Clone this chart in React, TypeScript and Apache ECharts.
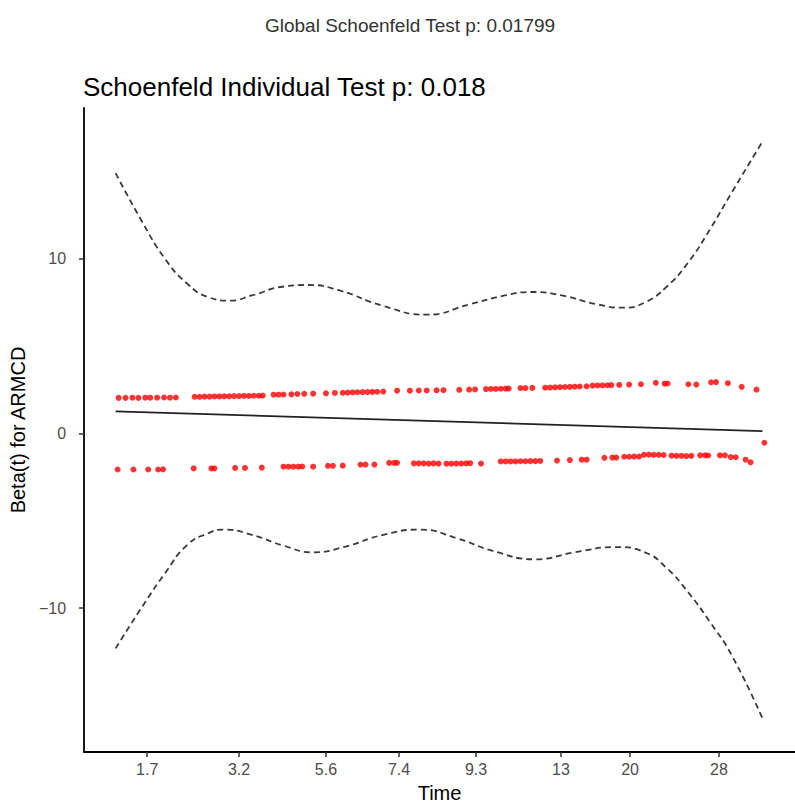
import React, { useEffect, useRef } from "react";
import * as echarts from "echarts";

// x values are on the transformed (rank) time scale used by the plot
const tickPositions = [32, 125, 213, 287, 365, 451, 521, 611];
const tickLabels = ["1.7", "3.2", "5.6", "7.4", "9.3", "13", "20", "28"];
const yTicks = [-10, 0, 10];

const upperCiX = [0, 27, 50, 72, 94, 116, 138, 169, 195, 226, 271, 315, 359, 394, 421, 452, 487, 514, 536, 558, 580, 602, 624, 655];
const upperCiY = [14.9, 12.1, 10.0, 8.6, 7.8, 7.6, 7.9, 8.4, 8.5, 8.2, 7.3, 6.8, 7.4, 7.9, 8.1, 7.9, 7.4, 7.2, 7.5, 8.4, 9.8, 11.7, 13.8, 16.7];

const lowerCiX = [0, 27, 50, 72, 94, 109, 138, 169, 200, 231, 271, 308, 346, 381, 425, 465, 507, 536, 558, 580, 602, 624, 655];
const lowerCiY = [-12.3, -9.9, -8.0, -6.4, -5.7, -5.5, -5.8, -6.4, -6.8, -6.5, -5.8, -5.5, -6.0, -6.7, -7.2, -6.8, -6.5, -6.8, -7.7, -9.1, -10.8, -12.7, -16.3];

const fitX = [0, 655];
const fitY = [1.27, 0.13];

const resUpperX = [3, 10, 17, 23, 30, 35, 42, 49, 55, 61, 80, 85, 90, 95, 100, 105, 110, 115, 120, 125, 130, 135, 140, 145, 149, 160, 165, 170, 178, 184, 191, 200, 213, 222, 230, 235, 240, 245, 250, 255, 260, 265, 271, 285, 298, 307, 315, 325, 332, 348, 358, 364, 375, 380, 385, 390, 395, 398, 410, 415, 422, 435, 440, 445, 450, 455, 460, 465, 470, 477, 483, 488, 493, 498, 502, 510, 520, 532, 547, 556, 559, 580, 588, 603, 608, 620, 634, 649];
const resUpperY = [2.04, 2.04, 2.05, 2.04, 2.05, 2.05, 2.05, 2.06, 2.05, 2.06, 2.1, 2.1, 2.11, 2.11, 2.12, 2.12, 2.13, 2.13, 2.14, 2.14, 2.15, 2.15, 2.16, 2.16, 2.17, 2.22, 2.22, 2.23, 2.24, 2.26, 2.27, 2.28, 2.3, 2.32, 2.33, 2.34, 2.35, 2.36, 2.37, 2.37, 2.38, 2.39, 2.4, 2.45, 2.45, 2.46, 2.46, 2.47, 2.48, 2.5, 2.51, 2.52, 2.54, 2.55, 2.55, 2.56, 2.57, 2.57, 2.6, 2.6, 2.61, 2.62, 2.63, 2.64, 2.65, 2.66, 2.67, 2.68, 2.69, 2.7, 2.74, 2.75, 2.75, 2.76, 2.77, 2.78, 2.8, 2.82, 2.9, 2.85, 2.86, 2.82, 2.8, 2.93, 2.94, 2.88, 2.67, 2.51];

const resLowerX = [2, 18, 33, 43, 48, 79, 97, 100, 121, 131, 148, 170, 175, 180, 185, 189, 200, 215, 220, 230, 248, 253, 262, 277, 282, 285, 302, 307, 312, 317, 322, 327, 335, 340, 345, 350, 355, 359, 370, 390, 395, 400, 405, 410, 415, 420, 425, 430, 447, 460, 472, 477, 495, 503, 507, 515, 520, 525, 530, 535, 540, 545, 550, 555, 563, 568, 573, 578, 583, 592, 597, 600, 612, 617, 623, 628, 638, 643, 657];
const resLowerY = [-2.06, -2.06, -2.06, -2.06, -2.05, -2.0, -2.0, -2.0, -1.97, -1.97, -1.95, -1.9, -1.9, -1.9, -1.9, -1.89, -1.9, -1.85, -1.85, -1.84, -1.78, -1.78, -1.78, -1.68, -1.68, -1.68, -1.71, -1.71, -1.71, -1.72, -1.71, -1.72, -1.73, -1.73, -1.72, -1.72, -1.71, -1.7, -1.72, -1.6, -1.6, -1.6, -1.6, -1.59, -1.59, -1.58, -1.58, -1.57, -1.55, -1.52, -1.5, -1.5, -1.39, -1.38, -1.38, -1.33, -1.33, -1.32, -1.32, -1.22, -1.21, -1.22, -1.22, -1.23, -1.27, -1.28, -1.28, -1.29, -1.28, -1.25, -1.25, -1.26, -1.25, -1.25, -1.35, -1.36, -1.5, -1.65, -0.53];

const zip = (xs: number[], ys: number[]) => xs.map((x, i) => [x, ys[i]]);

export default function App() {
  const ref = useRef<HTMLDivElement>(null);
  useEffect(() => {
    if (!ref.current) return;
    const chart = echarts.init(ref.current, null, { renderer: "svg" });
    const font = "'Liberation Sans', Arial, sans-serif";
    chart.setOption({
      animation: false,
      backgroundColor: "#ffffff",
      graphic: [
        {
          type: "text",
          x: 410,
          y: 25,
          style: {
            text: "Global Schoenfeld Test p: 0.01799",
            font: `19px ${font}`,
            fill: "#333333",
            textAlign: "center",
            textVerticalAlign: "middle",
          },
        },
        {
          type: "text",
          x: 83,
          y: 87,
          style: {
            text: "Schoenfeld Individual Test p: 0.018",
            font: `26px ${font}`,
            fill: "#000000",
            textAlign: "left",
            textVerticalAlign: "middle",
          },
        },
      ],
      grid: { left: 83, top: 108, width: 720, height: 645, containLabel: false },
      xAxis: {
        type: "value",
        min: -32,
        max: 688,
        name: "Time",
        nameLocation: "middle",
        nameGap: 31,
        nameTextStyle: { fontFamily: font, fontSize: 20, color: "#000" },
        axisLine: { show: true, onZero: false, lineStyle: { color: "#000", width: 1.8 } },
        axisTick: { show: true, length: 5, customValues: tickPositions, lineStyle: { color: "#333", width: 1.5 } },
        axisLabel: {
          customValues: tickPositions,
          formatter: (v: number) => {
            const i = tickPositions.indexOf(v);
            return i >= 0 ? tickLabels[i] : "";
          },
          fontFamily: font,
          fontSize: 16,
          color: "#4d4d4d",
          margin: 9,
        },
        splitLine: { show: false },
      },
      yAxis: {
        type: "value",
        min: -18.23,
        max: 18.63,
        name: "Beta(t) for ARMCD",
        nameLocation: "middle",
        nameGap: 46,
        nameTextStyle: { fontFamily: font, fontSize: 20, color: "#000" },
        axisLine: { show: true, onZero: false, lineStyle: { color: "#000", width: 1.8 } },
        axisTick: { show: true, length: 5, customValues: yTicks, lineStyle: { color: "#333", width: 1.5 } },
        axisLabel: {
          customValues: yTicks,
          formatter: (v: number) => String(v).replace("-", "\u2212"),
          fontFamily: font,
          fontSize: 16,
          color: "#4d4d4d",
          margin: 18,
        },
        splitLine: { show: false },
      },
      series: [
        {
          type: "scatter",
          data: zip(resUpperX, resUpperY),
          symbol: "circle",
          symbolSize: 6,
          itemStyle: { color: "#ff0000" },
          z: 2,
        },
        {
          type: "scatter",
          data: zip(resLowerX, resLowerY),
          symbol: "circle",
          symbolSize: 6,
          itemStyle: { color: "#ff0000" },
          z: 2,
        },
        {
          type: "line",
          data: zip(fitX, fitY),
          showSymbol: false,
          lineStyle: { color: "#222", width: 1.7 },
          z: 3,
        },
        {
          type: "line",
          data: zip(upperCiX, upperCiY),
          smooth: 0.5,
          showSymbol: false,
          lineStyle: { color: "#3a3a3a", width: 1.8, type: [6, 4] },
          z: 3,
        },
        {
          type: "line",
          data: zip(lowerCiX, lowerCiY),
          smooth: 0.5,
          showSymbol: false,
          lineStyle: { color: "#3a3a3a", width: 1.8, type: [6, 4] },
          z: 3,
        },
      ],
    });
    return () => chart.dispose();
  }, []);
  return (
    <div
      ref={ref}
      style={{ position: "fixed", left: 0, top: 0, width: 795, height: 808, background: "#fff" }}
    />
  );
}
